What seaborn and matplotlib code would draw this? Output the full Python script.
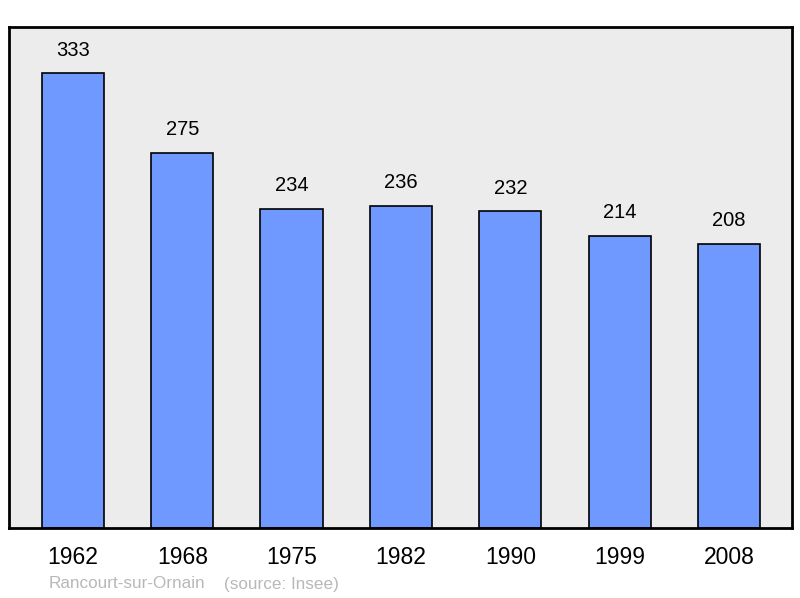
import pandas as pd
import matplotlib
matplotlib.use("Agg")
import matplotlib.pyplot as plt
import seaborn as sns

# Population data
years = ["1962", "1968", "1975", "1982", "1990", "1999", "2008"]
population = [333, 275, 234, 236, 232, 214, 208]
commune = "Rancourt-sur-Ornain"
source = "(source: Insee)"

sns.set_style("white")
plt.rcParams['font.family'] = ['Liberation Sans', 'DejaVu Sans']

df = pd.DataFrame({"year": years, "pop": population})

fig = plt.figure(figsize=(8, 5.98), dpi=100)
ax = fig.add_axes([9 / 800, 1 - 528 / 598, 783 / 800, 501 / 598])
ax.set_facecolor("#ececec")

sns.barplot(data=df, x="year", y="pop", hue="year", palette=["#7099ff"] * len(years),
            legend=False, width=0.57, edgecolor="black", linewidth=1.2, ax=ax,
            saturation=1)

for i, v in enumerate(population):
    ax.text(i, v + 10, str(v), ha="center", va="bottom", fontsize=14.5, color="black")

ax.set_xlim(-0.585, 6.576)
ax.set_ylim(0, 367)
ax.set_yticks([])
ax.set_xlabel("")
ax.set_ylabel("")
ax.tick_params(axis="x", length=0, pad=13, labelsize=16.5, labelcolor="black")
for s in ax.spines.values():
    s.set_color("black")
    s.set_linewidth(2)

fig.text(49 / 800, 1 - 584 / 598, commune, color="#b8b8b8", fontsize=12.3, va="center")
fig.text(224 / 800, 1 - 584 / 598, source, color="#b8b8b8", fontsize=12.3, va="center")

fig.savefig("out.png", dpi=100)
